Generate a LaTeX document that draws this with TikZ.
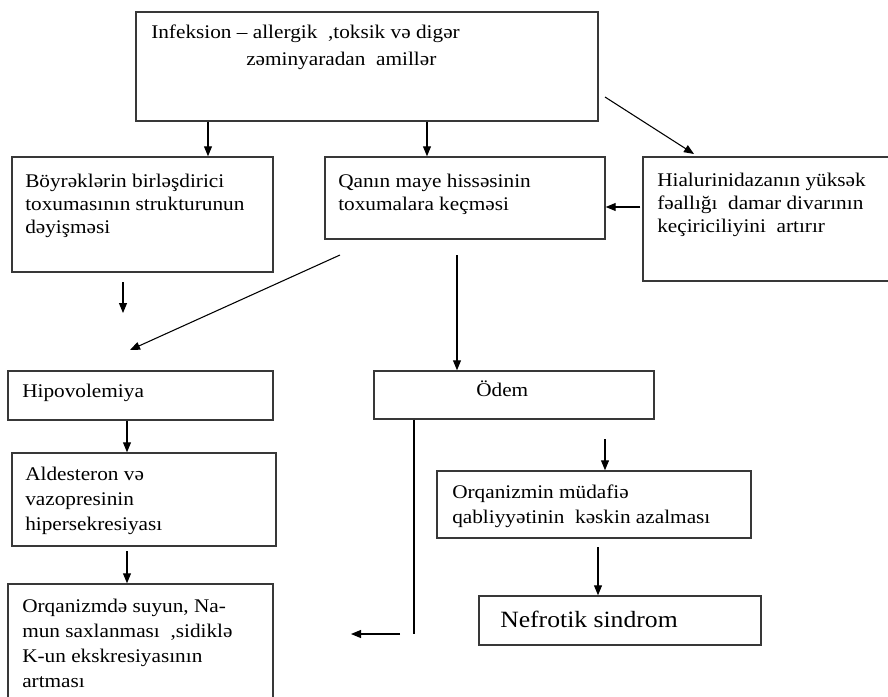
\documentclass[tikz,border=0pt]{standalone}
\usepackage{fontspec}
\setmainfont{Liberation Serif}[FakeStretch=1.1]
\usetikzlibrary{arrows.meta,fit}
\begin{document}
\begin{tikzpicture}[x=0.75pt,y=-0.75pt,
  box/.style={draw=black!78,line width=1.1pt,inner sep=0pt},
  txt/.style={anchor=base west,inner sep=0pt,align=left,font=\fontsize{14.5}{17.25}\selectfont},
  txtw/.style={anchor=base west,inner sep=0pt,align=left,font=\fontsize{14.5}{18.75}\selectfont},
  arr/.style={line width=0.8pt,-{Triangle[length=7.5pt,width=6pt]}},
  ln/.style={line width=0.8pt}]
\useasboundingbox (0,0) rectangle (888,696);
% boxes
\node[box,fit={(136,12) (598,121)}] (top) {};
\node[box,fit={(12,157) (273,272)}] (b1) {};
\node[box,fit={(325,157) (605,239)}] (b2) {};
\node[box,fit={(643,157) (892,281)}] (b3) {};
\node[box,fit={(8,371) (273,420)}] (hipo) {};
\node[box,fit={(12,453) (276,546)}] (ald) {};
\node[box,fit={(8,584) (273,702)}] (org) {};
\node[box,fit={(374,371) (654,419)}] (odem) {};
\node[box,fit={(437,471) (751,538)}] (orgm) {};
\node[box,fit={(479,596) (761,645)}] (nef) {};
% texts (multi-line nodes are placed by the baseline of their last line)
\node[txt] (ttop1) at (151,38) {Infeksion – allergik \ ,toksik və digər};
\node[txt] (ttop2) at (246,65) {zəminyaradan \ amillər};
\node[txt] (tb1) at (25,233) {Böyrəklərin birləşdirici\\toxumasının strukturunun\\dəyişməsi};
\node[txt] (tb2) at (338,210) {Qanın maye hissəsinin\\toxumalara keçməsi};
\node[txt] (tb3) at (657,232) {Hialurinidazanın yüksək\\fəallığı \ damar divarının\\keçiriciliyini \ artırır};
\node[txt] (thipo) at (22,397) {Hipovolemiya};
\node[txtw] (tald) at (25,530) {Aldesteron və\\vazopresinin\\hipersekresiyası};
\node[txtw] (torg) at (22,687) {Orqanizmdə suyun, Na-\\mun saxlanması \ ,sidiklə\\K-un ekskresiyasının\\artması};
\node[txt] (todem) at (476,396) {Ödem};
\node[txtw] (torgm) at (452,523) {Orqanizmin müdafiə\\qabliyyətinin \ kəskin azalması};
\node[anchor=base west,inner sep=0pt,font=\fontsize{17.5}{21}\selectfont] (tnef) at (500,627) {Nefrotik sindrom};
% connector coordinates
\coordinate (c1) at (208,140);
\coordinate (c2) at (427,140);
\coordinate (c3s) at (605,97);
\coordinate (c3e) at (694,154);
\coordinate (c4) at (620,207);
\coordinate (c5s) at (457,255);
\coordinate (c6s) at (340,255);
\coordinate (c6e) at (130,350);
\coordinate (c7s) at (123,282);
\coordinate (c7e) at (123,313);
\coordinate (c8) at (127,440);
\coordinate (c9s) at (127,551);
\coordinate (c10) at (414,500);
\coordinate (c10e) at (414,634);
\coordinate (c11s) at (400,634);
\coordinate (c11e) at (351,634);
\coordinate (c12s) at (605,439);
\coordinate (c13s) at (598,547);
% connectors
\draw[arr] (top.south -| c1) -- (b1.north -| c1);
\draw[arr] (top.south -| c2) -- (b2.north -| c2);
\draw[arr] (c3s) -- (c3e);
\draw[arr] ([xshift=-1.5pt]b3.west |- c4) -- (b2.east |- c4);
\draw[arr] (c5s) -- (odem.north -| c5s);
\draw[arr] (c6s) -- (c6e);
\draw[arr] (c7s) -- (c7e);
\draw[arr] (hipo.south -| c8) -- (ald.north -| c8);
\draw[arr] (c9s) -- (org.north -| c9s);
\draw[ln] (odem.south -| c10) -- (c10e);
\draw[arr] (c11s) -- (c11e);
\draw[arr] (c12s) -- (orgm.north -| c12s);
\draw[arr] (c13s) -- (nef.north -| c13s);
\end{tikzpicture}
\end{document}
